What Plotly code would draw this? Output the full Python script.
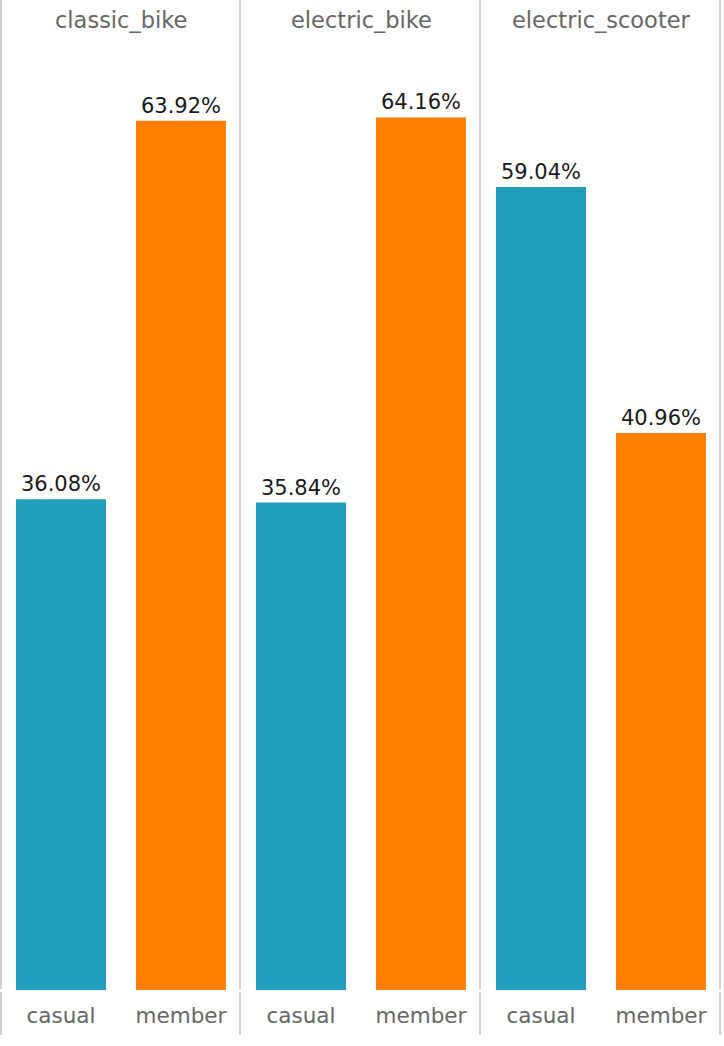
import plotly.graph_objects as go

W, H = 724, 1046

vehicle_types = ["classic_bike", "electric_bike", "electric_scooter"]
rider_types = ["casual", "member"]
casual_pct = [36.08, 35.84, 59.04]
member_pct = [63.92, 64.16, 40.96]

colors = {"casual": "#219EBC", "member": "#FF7F00"}
FONT = "DejaVu Sans"

fig = go.Figure()

panel_px = [(1, 241), (241, 481), (481, 721)]
y_dom = [(H - 990) / H, (H - 40) / H]

for i, vt in enumerate(vehicle_types):
    vals = [casual_pct[i], member_pct[i]]
    xa = "x" if i == 0 else f"x{i+1}"
    fig.add_trace(go.Bar(
        x=rider_types, y=vals,
        marker=dict(color=[colors[r] for r in rider_types], line=dict(width=0)),
        text=[f"{v:.2f}%" for v in vals],
        textposition="outside",
        textfont=dict(family=FONT, size=21, color="#1a1a1a"),
        cliponaxis=False,
        xaxis=xa, yaxis="y",
        showlegend=False,
        hoverinfo="skip",
    ))
    key = "xaxis" if i == 0 else f"xaxis{i+1}"
    a, b = panel_px[i]
    fig.layout[key] = dict(
        domain=[a / W, b / W], anchor="y",
        type="category", showgrid=False, zeroline=False, showline=False,
        ticks="", tickfont=dict(family=FONT, size=21.5, color="#666666"),
        ticklabelstandoff=10,
    )
    fig.add_annotation(
        x=(a + b) / 2 / W, y=(H - 20) / H, xref="paper", yref="paper",
        text=vt, showarrow=False, xanchor="center", yanchor="middle",
        font=dict(family=FONT, size=22.5, color="#666666"),
    )

fig.update_layout(
    width=W, height=H,
    margin=dict(l=0, r=0, t=0, b=0),
    paper_bgcolor="white", plot_bgcolor="white",
    bargap=0.25,
    yaxis=dict(domain=y_dom, range=[0, 69.85], visible=False, fixedrange=True),
)

# panel divider lines
for xp in [1, 240, 480, 720]:
    for (y0, y1) in [(0, 989), (992, 1035)]:
        fig.add_shape(type="line", xref="paper", yref="paper",
                      x0=xp / W, x1=xp / W, y0=(H - y0) / H, y1=(H - y1) / H,
                      line=dict(color="#D0D0D0", width=2), layer="below")

fig.write_html("out.html")
